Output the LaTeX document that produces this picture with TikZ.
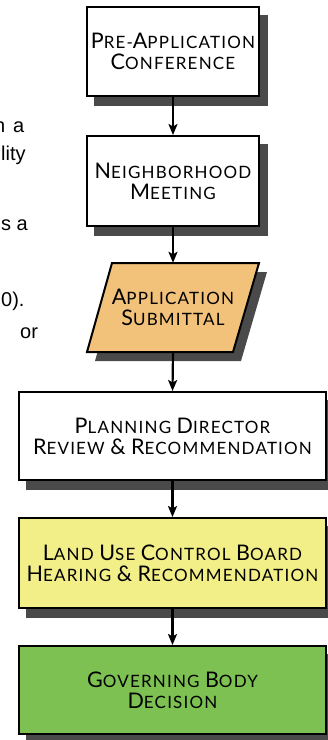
\documentclass[tikz,border=0pt]{standalone}
\usepackage{fontspec}
\setmainfont{Liberation Sans}
\newfontfamily\boxfont{Lato}[LetterSpace=7]
\usetikzlibrary{arrows.meta,backgrounds}
\definecolor{shadowgray}{RGB}{74,74,74}
\definecolor{appfill}{RGB}{242,194,122}
\definecolor{boardfill}{RGB}{242,238,136}
\definecolor{bodyfill}{RGB}{124,193,82}
\newcommand{\SC}[2]{{\fontsize{21.5}{21}\selectfont #1}{\fontsize{17}{21}\selectfont #2}}
\begin{document}
\begin{tikzpicture}[x=1pt,y=-1pt,
  stepbox/.style={draw=black, line width=2pt, fill=white, align=center,
    font=\boxfont\fontsize{17}{21}\selectfont, inner sep=0pt},
  shadowbox/.style={fill=shadowgray},
  arr/.style={draw=black, line width=2.2pt, -{Stealth[length=11pt,width=9pt,inset=2.5pt]}},
  sidetext/.style={font=\fontsize{20}{24}\selectfont, inner sep=0pt, anchor=base west, text=black}
]
\useasboundingbox (0,0) rectangle (328,740);

% side text fragments
\node[sidetext, anchor=base east] (t0) at (5.5,132) {n};
\node[sidetext] (t1) at (13,132) {a};
\node[sidetext] (t2) at (1,160) {lity};
\node[sidetext] (t3) at (1,230) {s a};
\node[sidetext] (t4) at (1,306) {0).};
\node[sidetext] (t5) at (20,338) {or};

% boxes
\node[stepbox, minimum width=172pt, minimum height=89pt] (pre) at (173,51.5)
  {\SC{P}{RE}-\SC{A}{PPLICATION}\\\SC{C}{ONFERENCE}};
\node[stepbox, minimum width=172pt, minimum height=90pt] (nbh) at (173,181)
  {\SC{N}{EIGHBORHOOD}\\\SC{M}{EETING}};

% parallelogram (application submittal)
\node[inner sep=0pt, minimum width=147pt, minimum height=89pt, align=center,
  font=\boxfont\fontsize{17}{21}\selectfont] (app) at (173,307.5)
  {\SC{A}{PPLICATION}\\\SC{S}{UBMITTAL}};
\coordinate (apNW) at (112,263);
\coordinate (apNE) at (259,263);
\coordinate (apSE) at (233,352);
\coordinate (apSW) at (87,352);

\node[stepbox, minimum width=307pt, minimum height=88pt] (pdr) at (172.5,436)
  {\SC{P}{LANNING} \SC{D}{IRECTOR}\\\SC{R}{EVIEW} \SC{\&}{} \SC{R}{ECOMMENDATION}};
\node[stepbox, fill=boardfill, minimum width=307pt, minimum height=90pt] (lucb) at (172.5,563)
  {\SC{L}{AND} \SC{U}{SE} \SC{C}{ONTROL} \SC{B}{OARD}\\\SC{H}{EARING} \SC{\&}{} \SC{R}{ECOMMENDATION}};
\node[stepbox, fill=bodyfill, minimum width=307pt, minimum height=88pt] (gbd) at (172.5,690)
  {\SC{G}{OVERNING} \SC{B}{ODY}\\\SC{D}{ECISION}};

% shadows and parallelogram shape
\begin{scope}[on background layer]
  \foreach \b in {pre,nbh,pdr,lucb,gbd}{
    \fill[shadowbox] ([xshift=8pt,yshift=-9pt]\b.north west) rectangle ([xshift=8pt,yshift=-9pt]\b.south east);
  }
  \fill[shadowbox] ([xshift=8pt,yshift=-9pt]apNW) -- ([xshift=8pt,yshift=-9pt]apNE)
    -- ([xshift=8pt,yshift=-9pt]apSE) -- ([xshift=8pt,yshift=-9pt]apSW) -- cycle;
  \filldraw[draw=black, line width=2pt, fill=appfill, line join=miter]
    (apNW) -- (apNE) -- (apSE) -- (apSW) -- cycle;
\end{scope}

% connectors
\draw[arr] (pre.south) -- (nbh.north);
\draw[arr] (nbh.south) -- (app.north);
\draw[arr] (app.south) -- (pdr.north);
\draw[arr] (pdr.south) -- (lucb.north);
\draw[arr] (lucb.south) -- (gbd.north);
\end{tikzpicture}
\end{document}
